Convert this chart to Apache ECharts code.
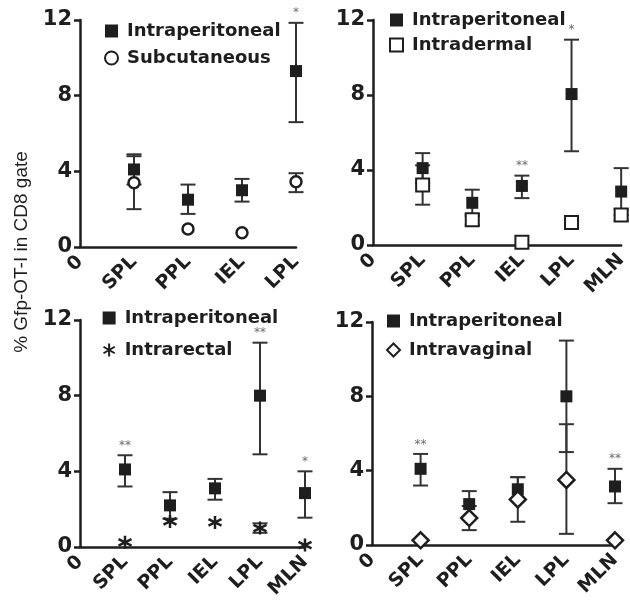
<!DOCTYPE html>
<html>
<head>
<meta charset="utf-8">
<script src="https://cdn.jsdelivr.net/npm/echarts@6/dist/echarts.min.js"></script>
<style>
html, body { margin: 0; padding: 0; background: #fff; }
#chart { width: 630px; height: 602px; }
</style>
</head>
<body>
<div id="chart"></div>
<script>
// site names on the x axis ("0" sits at the origin)
const sitesA = ['0', 'SPL', 'PPL', 'IEL', 'LPL']
const sitesB = ['0', 'SPL', 'PPL', 'IEL', 'LPL', 'MLN']
const yTicks = [0, 4, 8, 12]

// panel 1: intraperitoneal vs subcutaneous
const ipMean1 = [4.1, 2.5, 3.0, 9.3]
const ipLow1 = [3.3, 1.75, 2.4, 6.6]
const ipHigh1 = [4.9, 3.3, 3.6, 11.85]
const scMean1 = [3.4, 0.95, 0.75, 3.45]
const scLow1 = [2.0, 0.95, 0.75, 2.9]
const scHigh1 = [4.8, 0.95, 0.75, 3.9]
const stars1 = ['', '', '', '*']

// panel 2: intraperitoneal vs intradermal
const ipMean2 = [4.1, 2.25, 3.15, 8.05, 2.85]
const ipLow2 = [3.3, 1.55, 2.5, 5.0, 1.6]
const ipHigh2 = [4.9, 2.95, 3.7, 10.95, 4.1]
const idMean2 = [3.2, 1.35, 0.15, 1.2, 1.6]
const idLow2 = [2.15, 1.05, 0.15, 1.2, 1.3]
const idHigh2 = [4.25, 1.65, 0.15, 1.2, 1.9]
const stars2 = ['', '', '**', '*', '']

// panel 3: intraperitoneal vs intrarectal
const ipMean3 = [4.1, 2.2, 3.1, 8.0, 2.85]
const ipLow3 = [3.2, 1.5, 2.5, 4.9, 1.55]
const ipHigh3 = [4.85, 2.9, 3.6, 10.8, 4.0]
const irMean3 = [0.25, 1.35, 1.3, 1.0, 0.1]
const irLow3 = [0.25, 1.35, 1.3, 0.75, 0.1]
const irHigh3 = [0.25, 1.35, 1.3, 1.25, 0.1]
const stars3 = ['**', '', '', '**', '*']

// panel 4: intraperitoneal vs intravaginal
const ipMean4 = [4.1, 2.2, 3.0, 8.0, 3.15]
const ipLow4 = [3.2, 1.5, 2.4, 5.0, 2.25]
const ipHigh4 = [4.9, 2.9, 3.65, 11.0, 4.1]
const ivMean4 = [0.25, 1.45, 2.45, 3.5, 0.25]
const ivLow4 = [0.25, 0.8, 1.25, 0.6, 0.25]
const ivHigh4 = [0.25, 2.1, 3.65, 6.5, 0.25]
const stars4 = ['**', '', '', '', '**']

const INK = '#1e1e1e'
const FONT = 'DejaVu Sans'
const ASTERISK = 'path://M0,-10L0,10M-8.66,-5L8.66,5M-8.66,5L8.66,-5'

const panels = [
  {
    cats: sitesA, grid: {left: 80, top: 20, width: 216, height: 227},
    legend: {left: 104, top: 22, itemGap: 9},
    ip: [ipMean1, ipLow1, ipHigh1], other: [scMean1, scLow1, scHigh1], stars: stars1,
    name: 'Subcutaneous', symbol: 'circle', size: 11, border: 2.5
  },
  {
    cats: sitesB, grid: {left: 373, top: 20, width: 249, height: 225},
    legend: {left: 389, top: 11, itemGap: 7},
    ip: [ipMean2, ipLow2, ipHigh2], other: [idMean2, idLow2, idHigh2], stars: stars2,
    name: 'Intradermal', symbol: 'rect', size: 13, border: 2
  },
  {
    cats: sitesB, grid: {left: 80, top: 320, width: 225, height: 227},
    legend: {left: 101, top: 309, itemGap: 14},
    ip: [ipMean3, ipLow3, ipHigh3], other: [irMean3, irLow3, irHigh3], stars: stars3,
    name: 'Intrarectal', symbol: ASTERISK, size: 13, border: 2.5
  },
  {
    cats: sitesB, grid: {left: 372, top: 322, width: 243, height: 223},
    legend: {left: 386, top: 312, itemGap: 11},
    ip: [ipMean4, ipLow4, ipHigh4], other: [ivMean4, ivLow4, ivHigh4], stars: stars4,
    name: 'Intravaginal', symbol: 'diamond', size: 16, border: 2.5
  }
]

function errorBars(idx, vals) {
  const data = vals[0].map((m, i) => [i + 1, vals[1][i], vals[2][i]])
    .filter(d => d[1] !== d[2])
  return {
    type: 'custom', xAxisIndex: idx, yAxisIndex: idx, z: 2, silent: true,
    renderItem: function (params, api) {
      const lo = api.coord([api.value(0), api.value(1)])
      const hi = api.coord([api.value(0), api.value(2)])
      const w = 7.5
      const style = {stroke: '#333', lineWidth: 2}
      return {
        type: 'group',
        children: [
          {type: 'line', shape: {x1: lo[0], y1: lo[1], x2: hi[0], y2: hi[1]}, style: style},
          {type: 'line', shape: {x1: lo[0] - w, y1: lo[1], x2: lo[0] + w, y2: lo[1]}, style: style},
          {type: 'line', shape: {x1: hi[0] - w, y1: hi[1], x2: hi[0] + w, y2: hi[1]}, style: style}
        ]
      }
    },
    data: data
  }
}

const grid = [], xAxis = [], yAxis = [], legend = [], series = []

panels.forEach((p, idx) => {
  const n = p.cats.length - 1
  grid.push(p.grid)
  xAxis.push({
    gridIndex: idx, type: 'value', min: 0, max: n, interval: 1,
    splitLine: {show: false}, axisTick: {show: false},
    axisLine: {lineStyle: {color: INK, width: 2.5}},
    axisLabel: {
      rotate: 45, margin: 12, color: INK, fontFamily: FONT, fontWeight: 'bold', fontSize: 19,
      formatter: v => Number.isInteger(v) ? p.cats[v] : ''
    }
  })
  yAxis.push({
    gridIndex: idx, type: 'value', min: yTicks[0], max: yTicks[yTicks.length - 1], interval: 4,
    splitLine: {show: false},
    axisTick: {show: true, length: 6, lineStyle: {color: INK, width: 2.5}},
    axisLine: {show: true, lineStyle: {color: INK, width: 2.5}},
    axisLabel: {margin: 8, color: INK, fontFamily: FONT, fontWeight: 'bold', fontSize: 21}
  })
  legend.push({
    orient: 'vertical', left: p.legend.left, top: p.legend.top, padding: 0,
    itemGap: p.legend.itemGap, itemWidth: 13, itemHeight: 13,
    selectedMode: false,
    data: ['Intraperitoneal', p.name],
    textStyle: {color: INK, fontFamily: FONT, fontWeight: 'bold', fontSize: 18, padding: [0, 0, 0, 4]}
  })

  series.push(errorBars(idx, p.ip))
  series.push(errorBars(idx, p.other))
  series.push({
    type: 'scatter', name: 'Intraperitoneal', xAxisIndex: idx, yAxisIndex: idx, z: 3,
    symbol: 'rect', symbolSize: 12,
    itemStyle: {color: INK, opacity: 1},
    data: p.ip[0].map((v, i) => [i + 1, v])
  })
  series.push({
    type: 'scatter', name: p.name, xAxisIndex: idx, yAxisIndex: idx, z: 4,
    symbol: p.symbol, symbolSize: p.size,
    itemStyle: {color: p.symbol === ASTERISK ? 'none' : '#fff', borderColor: INK, borderWidth: p.border, opacity: 1},
    data: p.other[0].map((v, i) => [i + 1, v])
  })
  // significance marks above the intraperitoneal error bars
  series.push({
    type: 'scatter', xAxisIndex: idx, yAxisIndex: idx, z: 5, silent: true,
    symbolSize: 1, itemStyle: {color: 'rgba(0,0,0,0)'},
    label: {
      show: true, position: 'top', distance: 3, color: '#444', fontFamily: FONT, fontSize: 12,
      formatter: d => d.value[2]
    },
    data: p.stars.map((s, i) => [i + 1, p.ip[2][i], s]).filter(d => d[2] !== '')
  })
})

const myChart = echarts.init(document.getElementById('chart'))
myChart.setOption({
  animation: false,
  backgroundColor: '#fff',
  grid: grid,
  xAxis: xAxis,
  yAxis: yAxis,
  legend: legend,
  series: series,
  graphic: [{
    type: 'text', x: 22, y: 252, rotation: Math.PI / 2,
    style: {
      text: '% Gfp-OT-I in CD8 gate', x: 0, y: 0, align: 'center', verticalAlign: 'middle',
      fill: INK, font: '19px "Liberation Sans", Arial, sans-serif'
    }
  }]
})
</script>
</body>
</html>
